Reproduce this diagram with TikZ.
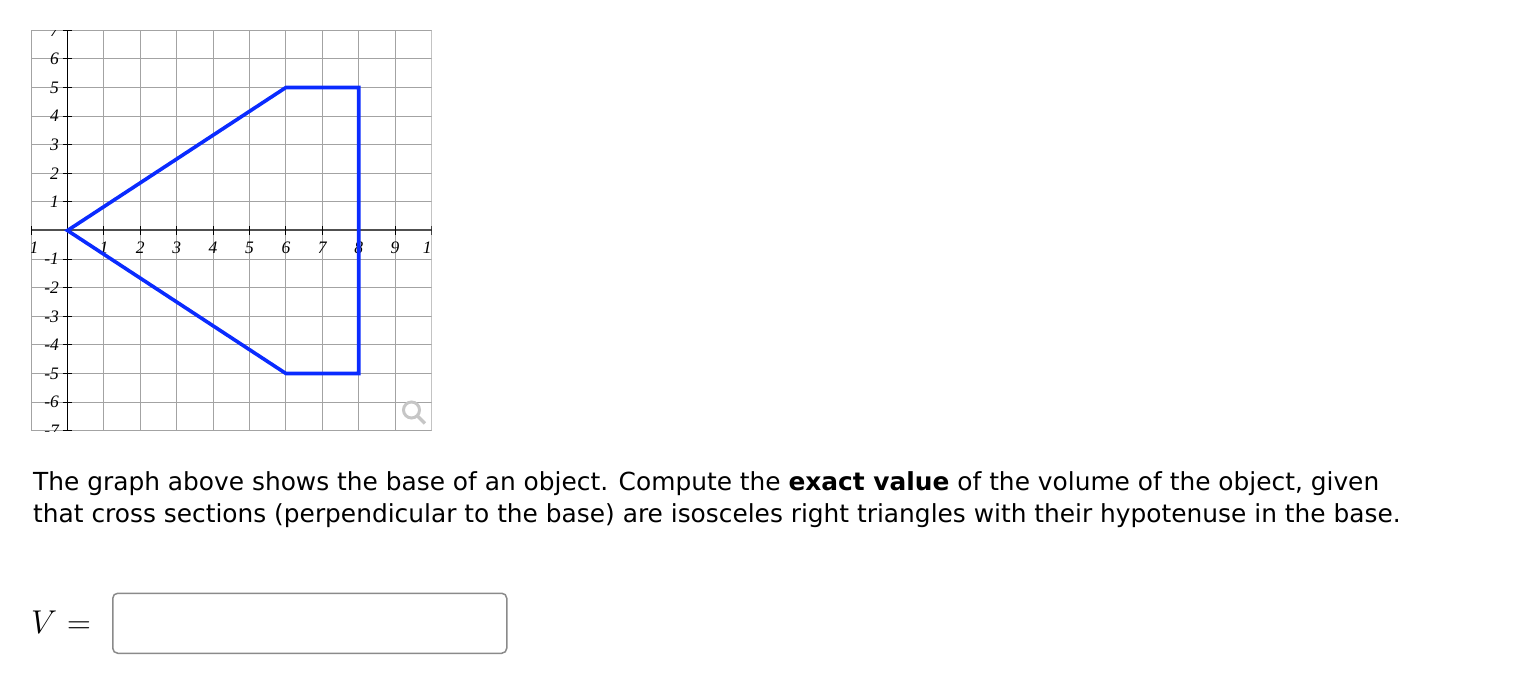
\documentclass[tikz,border=0pt]{standalone}
\usepackage{fix-cm}
\usepackage{fontspec}
\usepackage{amsmath}
\setsansfont{DejaVu Sans}
\newfontfamily\ticksfont{Liberation Serif}
\usetikzlibrary{positioning}
\definecolor{gridgray}{HTML}{A3A3A3}
\definecolor{axisgray}{HTML}{505050}
\definecolor{baseblue}{HTML}{0A2BFF}
\definecolor{boxgray}{HTML}{8A8A8A}
\definecolor{lensgray}{HTML}{C6C6C6}

\begin{document}
\begin{tikzpicture}[x=1pt,y=1pt,
    ticklabel/.style={font=\ticksfont\fontsize{17.5}{17.5}\selectfont\itshape, inner sep=0pt},
    basecurve/.style={baseblue, line width=3.6pt, line join=miter},
    prompttext/.style={font=\sffamily\fontsize{24.85}{32}\selectfont, align=left, inner sep=0pt}]
    \useasboundingbox (0,0) rectangle (1514,678);
    \begin{scope}
        \clip (31,247) rectangle (431.5,647);
        \begin{scope}[shift={(67.5,447.5)}, x=36.4pt, y=28.6pt]
            \foreach \i in {-1,...,10}
                \draw[gridgray, line width=1pt] (\i,-7) -- (\i,7);
            \foreach \j in {-7,...,7}
                \draw[gridgray, line width=1pt] (-1,\j) -- (10,\j);
            \draw[axisgray, line width=2pt] (-1,0) -- (10,0);
            \draw[black, line width=1.3pt] (0,-7) -- (0,7);
            \foreach \i in {-1,1,2,...,10} {
                \draw[black, line width=0.9pt] (\i,-0.14) -- (\i,0.14);
                \node[ticklabel] (xl\i) at (\i,-0.59) {\i};
            }
            \foreach \j in {-7,...,-1,1,2,...,7} {
                \draw[black, line width=0.9pt] (-0.13,\j) -- (0.13,\j);
                \node[ticklabel, anchor=east] (yl\j) at (-0.23,\j) {\j};
            }
            \coordinate (apex) at (0,0);
            \coordinate (topleft) at (6,5);
            \coordinate (topright) at (8,5);
            \coordinate (botright) at (8,-5);
            \coordinate (botleft) at (6,-5);
            \draw[basecurve] (apex) -- (topleft) -- (topright) -- (botright) -- (botleft) -- cycle;
        \end{scope}
    \end{scope}
    \coordinate (lens) at (411.5,268);
    \draw[lensgray, line width=3pt] (lens) circle (8);
    \draw[lensgray, line width=3.5pt] ([shift={(-45:8)}]lens) -- ++(-45:11);
    \node[prompttext, anchor=base west] (prompt) at (33,156)
        {The graph above shows the base of an object. Compute the \textbf{exact value} of the volume of the object, given\\
        that cross sections (perpendicular to the base) are isosceles right triangles with their hypotenuse in the base.};
    \node[anchor=base west, inner sep=0pt, font=\fontsize{33}{33}\selectfont] (vsym) at (31,45) {$V$};
    \node[anchor=base west, inner sep=0pt, font=\fontsize{33}{33}\selectfont] (eqsign) at (67,45) {$=$};
    \node[draw=boxgray, line width=1.5pt, rounded corners=5pt, minimum width=394pt, minimum height=60pt,
        anchor=south west] (answerbox) at (112,24) {};
\end{tikzpicture}
\end{document}
